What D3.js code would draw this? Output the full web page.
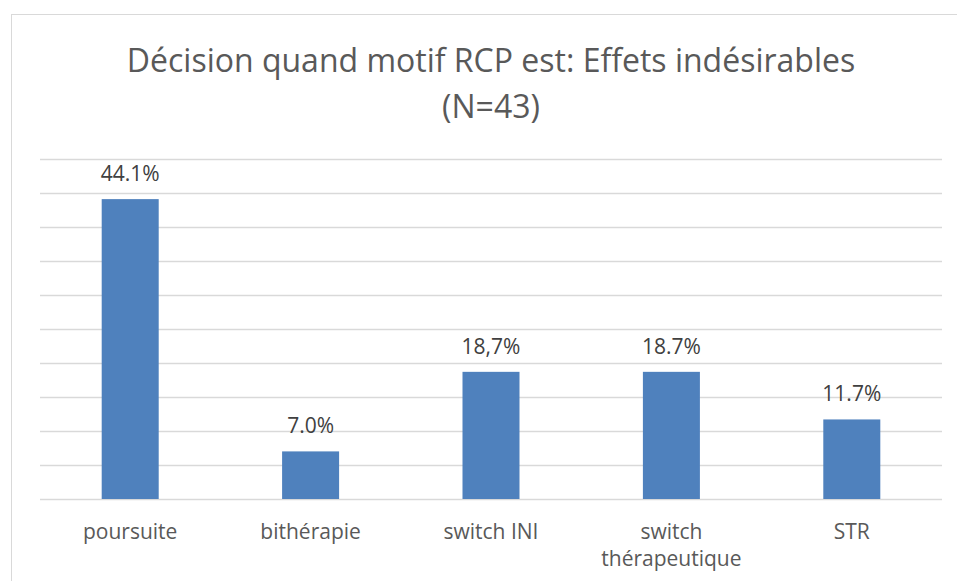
<!DOCTYPE html>
<html>
<head>
<meta charset="utf-8">
<script src="https://cdn.jsdelivr.net/npm/d3@7"></script>
<style>
  body { margin: 0; background: #fff; }
  text { font-family: "Open Sans", sans-serif; }
</style>
</head>
<body>
<div id="chart"></div>
<script>
// data
var categories = ["poursuite", "bithérapie", "switch INI", "switch thérapeutique", "STR"];
var values = [44.1, 7.0, 18.7, 18.7, 11.7];
var valueLabels = ["44.1%", "7.0%", "18,7%", "18.7%", "11.7%"];
var categoryLines = [["poursuite"], ["bithérapie"], ["switch INI"], ["switch", "thérapeutique"], ["STR"]];
var yTicks = [0, 5, 10, 15, 20, 25, 30, 35, 40, 45, 50];

var W = 957, H = 581;
var plot = {left: 40, right: 942, top: 159, bottom: 499};

var svg = d3.select("#chart").append("svg")
    .attr("width", W)
    .attr("height", H);

// chart frame
svg.append("rect")
    .attr("x", 11.5).attr("y", 14.5)
    .attr("width", 980).attr("height", 600)
    .attr("fill", "none")
    .attr("stroke", "#d9d9d9");

var x = d3.scaleBand()
    .domain(categories)
    .range([plot.left, plot.right])
    .paddingInner(0.684)
    .paddingOuter(0.342);

var y = d3.scaleLinear()
    .domain([0, 50])
    .range([plot.bottom, plot.top]);

// gridlines
svg.append("g").selectAll("line")
    .data(yTicks)
  .enter().append("line")
    .attr("x1", plot.left).attr("x2", plot.right)
    .attr("y1", function(d) { return Math.round(y(d)) + 0.5; })
    .attr("y2", function(d) { return Math.round(y(d)) + 0.5; })
    .attr("stroke", "#d9d9d9")
    .attr("stroke-width", 1.5);

// bars
svg.selectAll(".bar")
    .data(values)
  .enter().append("rect")
    .attr("class", "bar")
    .attr("x", function(d, i) { return x(categories[i]); })
    .attr("width", x.bandwidth())
    .attr("y", function(d) { return y(d); })
    .attr("height", function(d) { return y(0) - y(d); })
    .attr("fill", "#4f81bd");

// value labels
svg.selectAll(".val")
    .data(values)
  .enter().append("text")
    .attr("class", "val")
    .attr("x", function(d, i) { return x(categories[i]) + x.bandwidth() / 2; })
    .attr("y", function(d) { return y(d) - 18; })
    .attr("text-anchor", "middle")
    .attr("font-size", "21px")
    .attr("fill", "#404040")
    .text(function(d, i) { return valueLabels[i]; });

// category labels
var cat = svg.selectAll(".cat")
    .data(categories)
  .enter().append("text")
    .attr("class", "cat")
    .attr("text-anchor", "middle")
    .attr("font-size", "21px")
    .attr("fill", "#595959");
cat.selectAll("tspan")
    .data(function(d, i) { return categoryLines[i].map(function(t) { return {t: t, c: d}; }); })
  .enter().append("tspan")
    .attr("x", function(d) { return x(d.c) + x.bandwidth() / 2; })
    .attr("y", function(d, j) { return 539 + j * 27; })
    .text(function(d) { return d.t; });

// title
var title = svg.append("text")
    .attr("text-anchor", "middle")
    .attr("font-size", "32px")
    .attr("fill", "#595959");
title.append("tspan").attr("x", 491).attr("y", 72).text("Décision quand motif RCP est: Effets indésirables");
title.append("tspan").attr("x", 491).attr("y", 118).text("(N=43)");
</script>
</body>
</html>
